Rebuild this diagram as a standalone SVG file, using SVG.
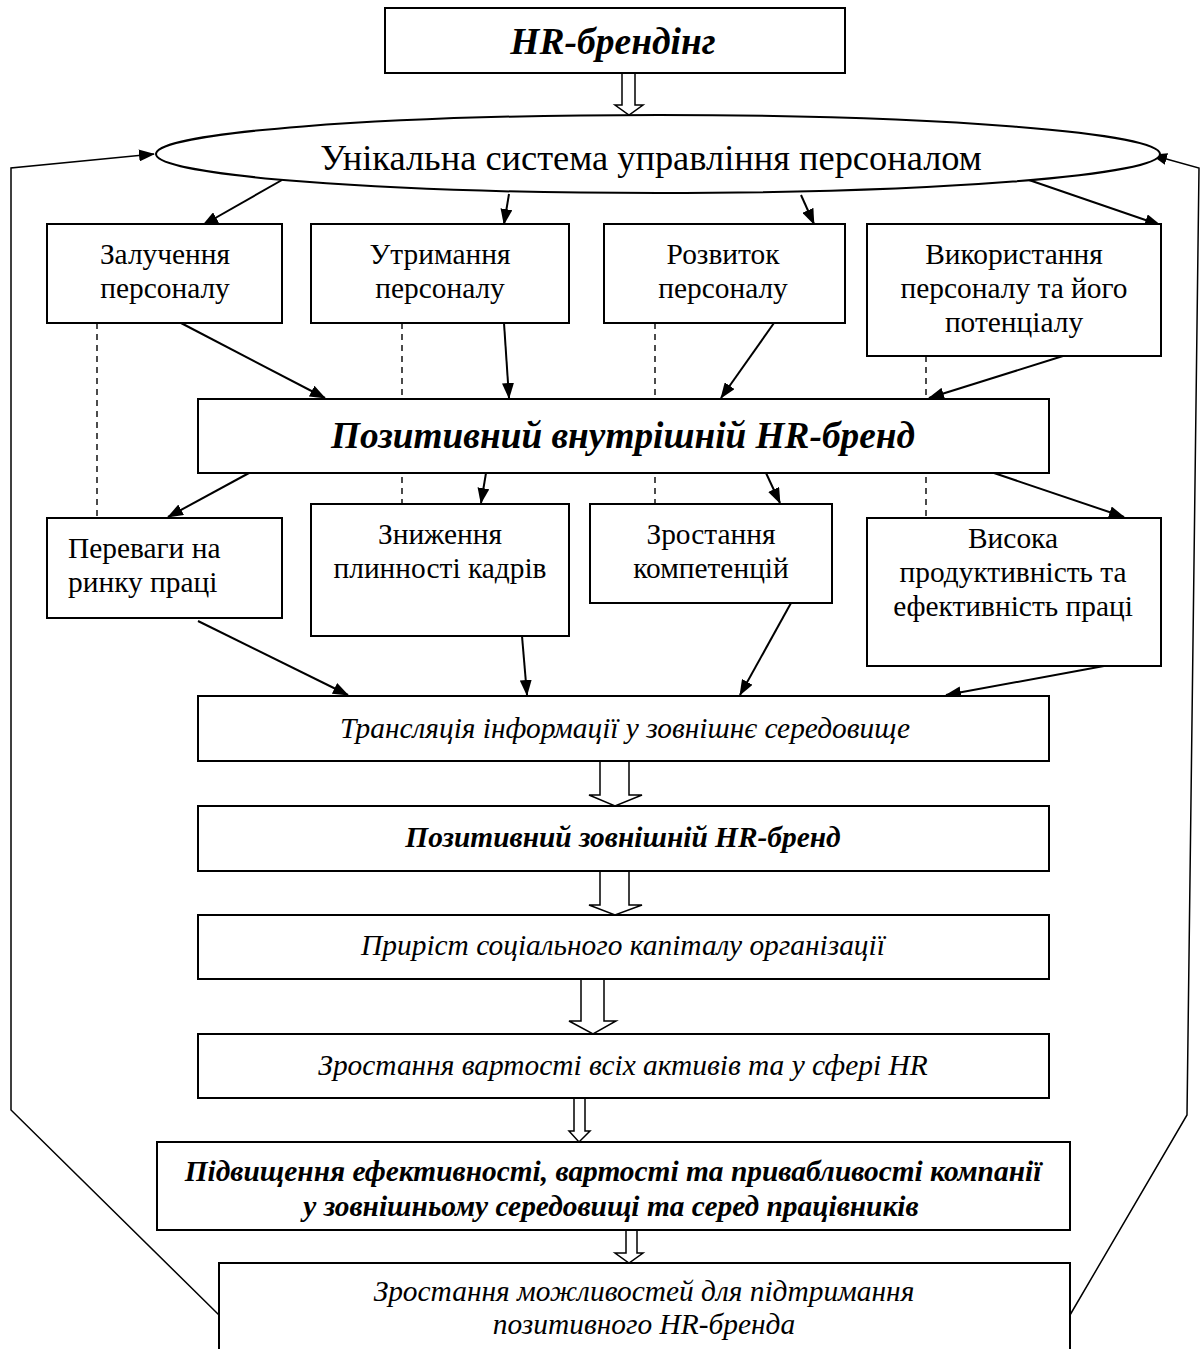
<svg xmlns="http://www.w3.org/2000/svg" width="1200" height="1349" viewBox="0 0 1200 1349">
<style>
  .box{fill:#fff;stroke:#000;stroke-width:2}
  .t{font-family:"Liberation Serif","Times New Roman",serif;fill:#000;text-anchor:middle}
  .r{font-size:29.4px}
  .i{font-size:29.4px;font-style:italic}
  .bi{font-weight:bold;font-style:italic}
  .s{text-anchor:start}
  .c{fill:none;stroke:#000;stroke-width:2}
  .fb{fill:none;stroke:#000;stroke-width:1.5}
  .d{fill:none;stroke:#000;stroke-width:1.4;stroke-dasharray:6 5}
  .h{fill:#fff;stroke:#000;stroke-width:1.5}
</style>
<defs>
  <marker id="ah" markerWidth="16" markerHeight="12" refX="15" refY="6" orient="auto" markerUnits="userSpaceOnUse">
    <path d="M0,0 L16,6 L0,12 z" fill="#000"/>
  </marker>
</defs>
<rect width="1200" height="1349" fill="#fff"/>

<g id="dashed">
  <line class="d" x1="97" y1="323" x2="97" y2="518"/>
  <line class="d" x1="402" y1="323" x2="402" y2="504"/>
  <line class="d" x1="655" y1="323" x2="655" y2="504"/>
  <line class="d" x1="926" y1="356" x2="926" y2="518"/>
</g>

<g id="connectors">
  <polyline class="fb" points="219,1315 11,1110 11,168 154,154" marker-end="url(#ah)"/>
  <polyline class="fb" points="1070,1315 1187,1115 1199,168 1152,155" marker-end="url(#ah)"/>
  <line class="c" x1="282" y1="180" x2="203" y2="225" marker-end="url(#ah)"/>
  <line class="c" x1="509" y1="194" x2="504" y2="224" marker-end="url(#ah)"/>
  <line class="c" x1="801" y1="195" x2="814" y2="224" marker-end="url(#ah)"/>
  <line class="c" x1="1029" y1="180" x2="1160" y2="225" marker-end="url(#ah)"/>
  <line class="c" x1="181" y1="323" x2="325" y2="398" marker-end="url(#ah)"/>
  <line class="c" x1="504" y1="323" x2="509" y2="398" marker-end="url(#ah)"/>
  <line class="c" x1="774" y1="323" x2="721" y2="398" marker-end="url(#ah)"/>
  <line class="c" x1="1063" y1="356" x2="929" y2="398" marker-end="url(#ah)"/>
  <line class="c" x1="249" y1="473" x2="168" y2="517" marker-end="url(#ah)"/>
  <line class="c" x1="486" y1="473" x2="481" y2="503" marker-end="url(#ah)"/>
  <line class="c" x1="766" y1="473" x2="780" y2="503" marker-end="url(#ah)"/>
  <line class="c" x1="994" y1="473" x2="1124" y2="517" marker-end="url(#ah)"/>
  <line class="c" x1="198" y1="621" x2="348" y2="695" marker-end="url(#ah)"/>
  <line class="c" x1="522" y1="636" x2="527" y2="695" marker-end="url(#ah)"/>
  <line class="c" x1="791" y1="603" x2="740" y2="695" marker-end="url(#ah)"/>
  <line class="c" x1="1104" y1="666" x2="946" y2="695" marker-end="url(#ah)"/>
  <path class="h" d="M622,73 V105 H615 L629,115 L643,105 H635 V73"/>
  <path class="h" d="M600,761 V795 H589 L615,806 L642,795 H629 V761"/>
  <path class="h" d="M600,871 V905 H589 L615,915 L642,905 H629 V871"/>
  <path class="h" d="M581,979 V1021 H569 L593,1034 L616,1021 H604 V979"/>
  <path class="h" d="M574,1098 V1131 H569 L579,1142 L590,1131 H585 V1098"/>
  <path class="h" d="M626,1230 V1253 H615 L629,1263 L643,1253 H637 V1230"/>
</g>

<g id="n-hr">
  <rect class="box" x="385" y="8" width="460" height="65"/>
  <text class="t bi" x="613" y="54" font-size="37.5">HR-брендінг</text>
</g>
<g id="n-system">
  <ellipse cx="658" cy="154" rx="502" ry="39" fill="#fff" stroke="#000" stroke-width="2"/>
  <text class="t" x="651" y="170" font-size="36.4">Унікальна система управління персоналом</text>
</g>
<g id="n-zaluch">
  <rect class="box" x="47" y="224" width="235" height="99"/>
  <text class="t r" x="165" y="264">Залучення</text>
  <text class="t r" x="165" y="298">персоналу</text>
</g>
<g id="n-utrym">
  <rect class="box" x="311" y="224" width="258" height="99"/>
  <text class="t r" x="440" y="264">Утримання</text>
  <text class="t r" x="440" y="298">персоналу</text>
</g>
<g id="n-rozv">
  <rect class="box" x="604" y="224" width="241" height="99"/>
  <text class="t r" x="723" y="264">Розвиток</text>
  <text class="t r" x="723" y="298">персоналу</text>
</g>
<g id="n-vykor">
  <rect class="box" x="867" y="224" width="294" height="132"/>
  <text class="t r" x="1014" y="264">Використання</text>
  <text class="t r" x="1014" y="298">персоналу та його</text>
  <text class="t r" x="1014" y="332">потенціалу</text>
</g>
<g id="n-internal">
  <rect class="box" x="198" y="399" width="851" height="74"/>
  <text class="t bi" x="623" y="448" font-size="37.3">Позитивний внутрішній HR-бренд</text>
</g>
<g id="n-perevagy">
  <rect class="box" x="47" y="518" width="235" height="100"/>
  <text class="t r s" x="68" y="558">Переваги на</text>
  <text class="t r s" x="68" y="592">ринку праці</text>
</g>
<g id="n-znyzh">
  <rect class="box" x="311" y="504" width="258" height="132"/>
  <text class="t r" x="440" y="544">Зниження</text>
  <text class="t r" x="440" y="578">плинності кадрів</text>
</g>
<g id="n-zrost">
  <rect class="box" x="590" y="504" width="242" height="99"/>
  <text class="t r" x="711" y="544">Зростання</text>
  <text class="t r" x="711" y="578">компетенцій</text>
</g>
<g id="n-vysoka">
  <rect class="box" x="867" y="518" width="294" height="148"/>
  <text class="t r" x="1013" y="548">Висока</text>
  <text class="t r" x="1013" y="582">продуктивність та</text>
  <text class="t r" x="1013" y="616">ефективність праці</text>
</g>
<g id="n-transl">
  <rect class="box" x="198" y="696" width="851" height="65"/>
  <text class="t i" x="625" y="738">Трансляція інформації у зовнішнє середовище</text>
</g>
<g id="n-external">
  <rect class="box" x="198" y="806" width="851" height="65"/>
  <text class="t bi" x="623" y="847" font-size="29.4">Позитивний зовнішній HR-бренд</text>
</g>
<g id="n-prirost">
  <rect class="box" x="198" y="915" width="851" height="64"/>
  <text class="t i" x="623" y="955">Приріст соціального капіталу організації</text>
</g>
<g id="n-vartist">
  <rect class="box" x="198" y="1034" width="851" height="64"/>
  <text class="t i" x="623" y="1075">Зростання вартості всіх активів та у сфері HR</text>
</g>
<g id="n-pidvysh">
  <rect class="box" x="157" y="1142" width="913" height="88"/>
  <text class="t bi" x="613" y="1181" font-size="29.4">Підвищення ефективності, вартості та привабливості компанії</text>
  <text class="t bi" x="611" y="1216" font-size="29.4">у зовнішньому середовищі та серед працівників</text>
</g>
<g id="n-mozhl">
  <rect class="box" x="219" y="1263" width="851" height="100"/>
  <text class="t i" x="644" y="1301" font-size="28.3">Зростання можливостей для підтримання</text>
  <text class="t i" x="644" y="1334" font-size="28.3">позитивного HR-бренда</text>
</g>
</svg>
